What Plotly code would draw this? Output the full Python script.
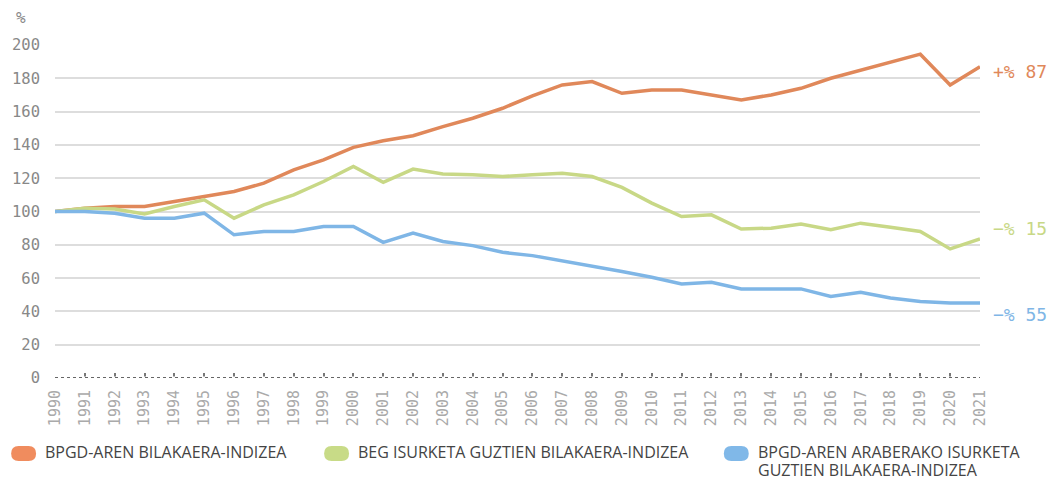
import plotly.graph_objects as go

years = list(range(1990, 2022))
gdp_index = [100, 102, 103, 103, 106, 109, 112, 117, 125, 131, 138.5, 142.5, 145.5, 151, 156, 162,
             169.5, 176, 178, 171, 173, 173, 170, 167, 170, 174, 180, 185, 190, 194.5, 176, 187]
ghg_index = [100, 102, 101.5, 98.5, 103, 107, 96, 104, 110, 118, 127, 117.5, 125.5, 122.5, 122, 121,
             122, 123, 121, 114.5, 105, 97, 98, 89.5, 90, 92.5, 89, 93, 90.5, 88, 77.5, 83.5]
ghg_per_gdp = [100, 100, 99, 96, 96, 99, 86, 88, 88, 91, 91, 81.5, 87, 82, 79.5, 75.5,
               73.5, 70.5, 67, 64, 60.5, 56.5, 57.5, 53.5, 53.5, 53.5, 49, 51.5, 48, 46, 45, 45]

series_names = ["BPGD-AREN BILAKAERA-INDIZEA",
                "BEG ISURKETA GUZTIEN BILAKAERA-INDIZEA",
                "BPGD-AREN ARABERAKO ISURKETA<br>GUZTIEN BILAKAERA-INDIZEA"]
end_labels = ["+% 87", "\u2212% 15", "\u2212% 55"]
end_label_pos = [184, 90, 38]
line_colors = ["#E0885A", "#C8D886", "#7FB6E6"]
pill_colors = ["#F08C5E", "#C8DB87", "#80B8E8"]
yticks = list(range(0, 201, 20))

W, H = 1053, 480
L, R, T, B = 52, 73, 45, 102
PW, PH = W - L - R, H - T - B

def px(xp):
    return (xp - L) / PW

def py(yp):
    return (H - B - yp) / PH

fig = go.Figure()
for vals, name, col in zip([gdp_index, ghg_index, ghg_per_gdp], series_names, line_colors):
    fig.add_trace(go.Scatter(x=years, y=vals, mode="lines", name=name.replace("<br>", " "),
                             line=dict(color=col, width=3.5), showlegend=False))

mono = "DejaVu Sans Mono"
fig.update_layout(
    width=W, height=H,
    margin=dict(l=L, r=R, t=T, b=B),
    paper_bgcolor="white", plot_bgcolor="white",
    xaxis=dict(range=[1990, 2021], tickvals=years, ticktext=[str(y) for y in years],
               tickangle=-90, showgrid=False, zeroline=False, showline=False,
               ticks="inside", ticklen=5, tickwidth=1.5, tickcolor="#777",
               tickfont=dict(family=mono, size=15, color="#AAAAAA"), ticklabelstandoff=8),
    yaxis=dict(range=[0, 200], tickvals=yticks, showgrid=True, gridcolor="#DDDDDD", gridwidth=1.5,
               zeroline=False, showline=False, ticks="",
               tickfont=dict(family=mono, size=15.5, color="#888"), ticklabelstandoff=14),
)

# dotted baseline at 0
fig.add_shape(type="line", xref="paper", yref="y", x0=0, x1=1, y0=0, y1=0,
              line=dict(color="white", width=3), layer="above")
fig.add_shape(type="line", xref="paper", yref="y", x0=0, x1=1, y0=0, y1=0,
              line=dict(color="#666", width=2.2, dash="dot"), layer="above")

# unit label
fig.add_annotation(text="%", xref="paper", yref="paper", x=px(18), y=py(18),
                   showarrow=False, xanchor="center", yanchor="middle",
                   font=dict(family=mono, size=16, color="#888"))

# end labels
for txt, ypos, col in zip(end_labels, end_label_pos, line_colors):
    fig.add_annotation(text=txt, xref="paper", yref="y", x=px(991), y=ypos,
                       showarrow=False, xanchor="left", yanchor="middle",
                       font=dict(family=mono, size=18, color=col))

# manual legend with pill markers
def pill_path(x0, y0, x1, y1, r):
    pts = [("M", [(x0 + r, y0)]), ("L", [(x1 - r, y0)]), ("Q", [(x1, y0), (x1, y0 + r)]),
           ("L", [(x1, y1 - r)]), ("Q", [(x1, y1), (x1 - r, y1)]), ("L", [(x0 + r, y1)]),
           ("Q", [(x0, y1), (x0, y1 - r)]), ("L", [(x0, y0 + r)]), ("Q", [(x0, y0), (x0 + r, y0)])]
    s = ""
    for cmd, ps in pts:
        s += cmd + " " + " ".join(f"{px(a):.5f},{py(b):.5f}" for a, b in ps) + " "
    return s + "Z"

legend_x = [8, 322, 723]
for i, (name, col) in enumerate(zip(series_names, pill_colors)):
    x0 = legend_x[i]
    fig.add_shape(type="path", xref="paper", yref="paper",
                  path=pill_path(x0, 446, x0 + 25, 461, 7.5),
                  fillcolor=col, line=dict(width=0))
    for j, line_txt in enumerate(name.split("<br>")):
        fig.add_annotation(text=line_txt, xref="paper", yref="paper", x=px(x0 + 33),
                           y=py(452 + 18 * j),
                           showarrow=False, xanchor="left", yanchor="middle", align="left",
                           borderpad=0,
                           font=dict(family="Open Sans", size=16, color="#444"))

fig.write_html("out.html", config={"displayModeBar": False},
               post_script="document.body.style.margin='0';document.body.style.overflow='hidden';")
